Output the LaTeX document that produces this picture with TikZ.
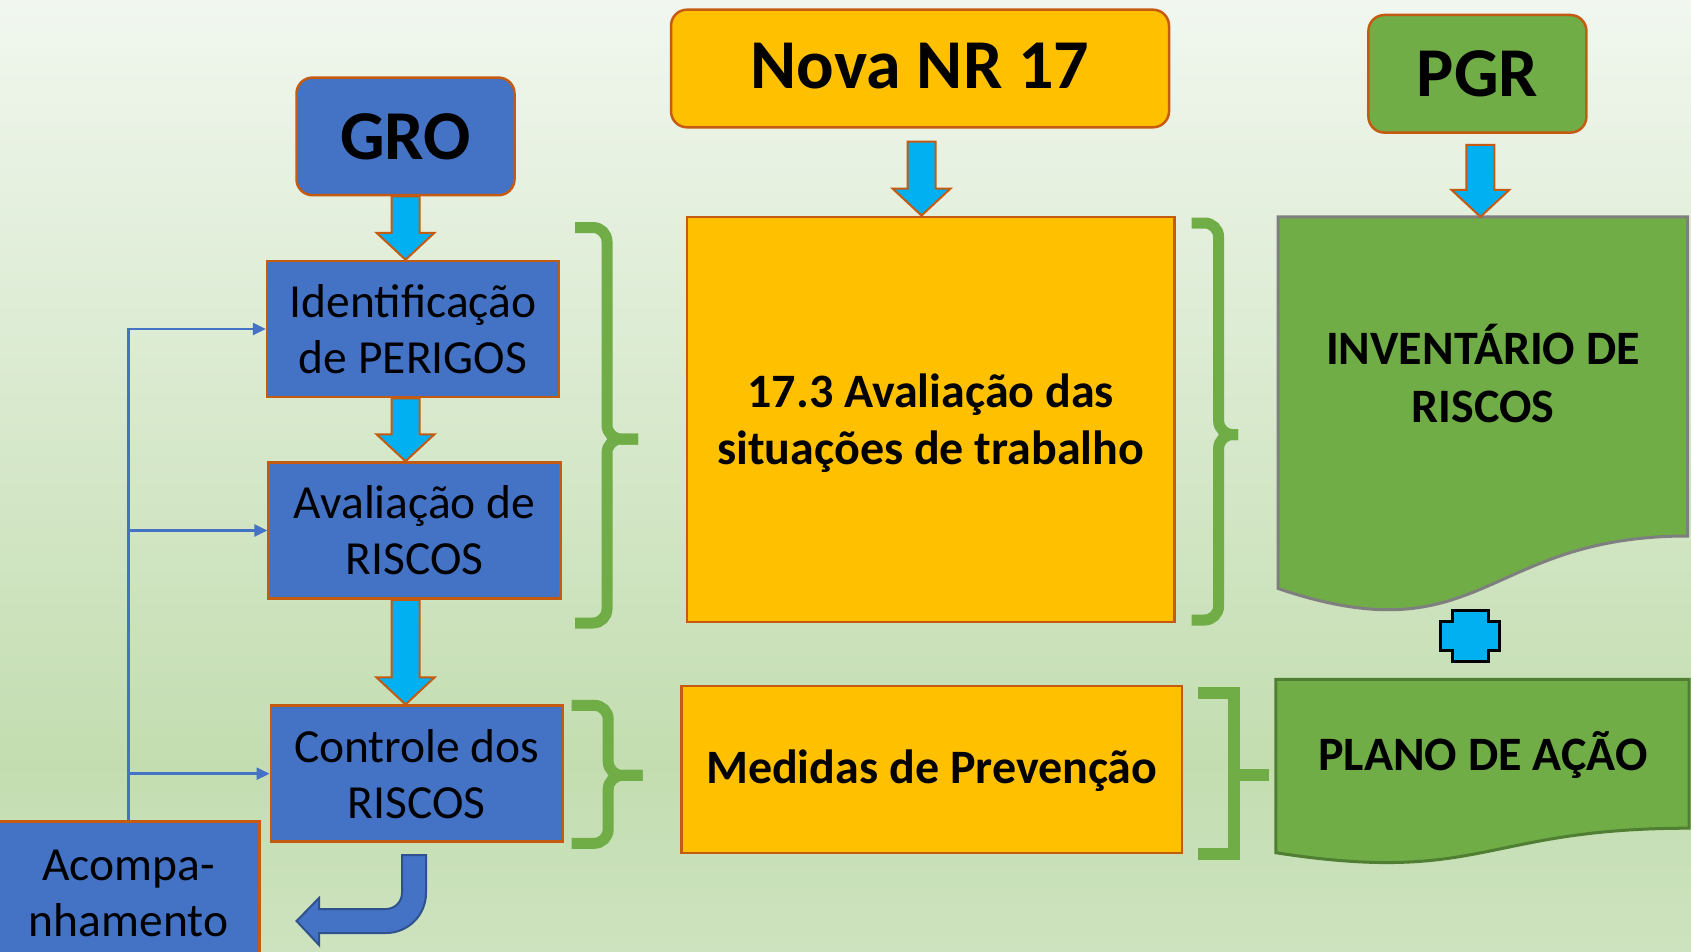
\documentclass[tikz,border=0pt]{standalone}
\usepackage{fontspec}
\setmainfont{Carlito}
\usetikzlibrary{positioning, calc, arrows.meta}

\definecolor{azul}{HTML}{4472C4}
\definecolor{azulesc}{HTML}{2F528F}
\definecolor{ciano}{HTML}{00B0F0}
\definecolor{laranja}{HTML}{C55A11}
\definecolor{ouro}{HTML}{FFC000}
\definecolor{verde}{HTML}{70AD47}
\definecolor{verdeesc}{HTML}{507E32}
\definecolor{cinza}{HTML}{7F7F7F}
\definecolor{fundotopo}{HTML}{F1F7EF}
\definecolor{fundomeio}{HTML}{C3DDB0}
\definecolor{fundobase}{HTML}{CDE3BF}

\pgfdeclareverticalshading{fundo}{100bp}{color(0bp)=(fundobase); color(25bp)=(fundobase); color(35bp)=(fundomeio); color(75bp)=(fundotopo); color(100bp)=(fundotopo)}

\tikzset{
    x=1pt, y=-1pt, % um ponto por pixel, y para baixo
    caixa/.style={draw=laranja, line width=2.5pt, fill=azul, minimum width=292pt, minimum height=136pt, inner sep=0pt, align=center, font=\fontsize{47.5}{56}\selectfont}, % caixas azuis do GRO
    titulo/.style={draw=laranja, line width=2.5pt, rounded corners=16pt, minimum width=218pt, minimum height=117.6pt, font=\bfseries\fontsize{70}{84}\selectfont}, % GRO, NR 17 e PGR
    amarela/.style={draw=laranja, line width=2.5pt, fill=ouro, inner sep=0pt, align=center, font=\bfseries\fontsize{48}{57}\selectfont}, % caixas da NR 17
    documento/.style={line width=3pt, fill=verde}, % formas de documento do PGR
    textodoc/.style={align=center, font=\bfseries\fontsize{48}{58}\selectfont},
    blocoseta/.style={draw=laranja, line width=2pt, fill=ciano, line join=miter}, % setas largas
    retorno/.style={draw=azul, line width=2.5pt, -{Triangle[length=13pt, width=12pt]}}, % linhas do acompanhamento
    chave/.style={draw=verde, line width=11pt, rounded corners=14pt},
    colchete/.style={draw=verde, line width=12pt},
    volta/.style={fill=azul, draw=azulesc, line width=2pt},
    mais/.style={fill=ciano, draw=black, line width=3pt}
}

% seta larga para baixo: #1 inicio, #2 ponta
\newcommand{\setabaixo}[2]{%
    \draw[blocoseta] let \p1=#1, \p2=#2 in
        (\x1-14pt,\y1) -- (\x1+14pt,\y1) -- (\x1+14pt,\y2+27pt) -- (\x1+29pt,\y2+27pt)
        -- (\x1,\y2) -- (\x1-29pt,\y2+27pt) -- (\x1-14pt,\y2+27pt) -- cycle;}
% texto baixado dentro da caixa
\newcommand{\desce}[2]{\raisebox{-#1}[\height][\depth]{\begin{tabular}{@{}c@{}}#2\end{tabular}}}

\begin{document}
\begin{tikzpicture}
    \useasboundingbox (0,0) rectangle (1691,952);
    \clip (0,0) rectangle (1691,952);
    \shade[shading=fundo] (0,0) rectangle (1691,952);

    % Chaves
    \draw[chave] (575,227.5) -- (607,227.5) -- (607,439) -- (638,439);
    \draw[chave] (638,439) -- (607,439) -- (607,623) -- (575,623);
    \draw[chave] (571.6,705.3) -- (608.2,705.3) -- (608.2,775.4) -- (642.7,775.4);
    \draw[chave] (642.7,775.4) -- (608.2,775.4) -- (608.2,843.3) -- (571.6,843.3);
    \draw[chave] (1191.6,223) -- (1218.6,223) -- (1218.6,434.6) -- (1238,434.6);
    \draw[chave] (1238,434.6) -- (1218.6,434.6) -- (1218.6,620) -- (1191.6,620);
    \draw[colchete] (1198,693) -- (1233.6,693) -- (1233.6,854) -- (1198,854);
    \draw[colchete] (1233.6,775) -- (1269,775);

    % Caixas
    \node[titulo, fill=azul] (GRO) at (405.5,136.4) {GRO};
    \node[caixa] (IP) at (413,329) {Identificação\\de PERIGOS};
    \node[caixa] (AR) at (414.6,530.5) {Avaliação de\\RISCOS};
    \node[caixa] (CR) at (416.8,773.7) {Controle dos\\RISCOS};
    \node[caixa, minimum width=262pt, minimum height=143pt] (AC) at (128.5,893) {Acompa-\\nhamento};

    \node[titulo, fill=ouro, minimum width=498pt] (NR) at (920,68.5) {\desce{3.5pt}{Nova NR 17}};
    \node[amarela, minimum width=487.4pt, minimum height=405.4pt] (AS) at (930.7,419.5) {\desce{5pt}{17.3 Avaliação das\\situações de trabalho}};
    \node[amarela, minimum width=500.4pt, minimum height=167pt] (MP) at (931.8,769.5) {\desce{3pt}{Medidas de Prevenção}};

    \node[titulo, fill=verde] (PGR) at (1477.4,73.8) {PGR};
    \draw[documento, draw=cinza] (1278,216.8) -- (1687.7,216.8) -- (1687.7,536)
        .. controls (1482.9,536) and (1482.9,657.6) .. (1278,588.5) -- cycle;
    \coordinate (IRtopo) at (1480.6,216.8);
    \node[textodoc] (IR) at (1483,374) {INVENTÁRIO DE\\RISCOS};
    \draw[documento, draw=verdeesc] (1275.8,679.4) -- (1689,679.4) -- (1689,828.2)
        .. controls (1482.4,828.2) and (1482.4,884.8) .. (1275.8,852.7) -- cycle;
    \node[textodoc] (PA) at (1483,755) {PLANO DE AÇÃO};

    % Sinal de mais
    \filldraw[mais] (1452,610.4) -- (1488,610.4) -- (1488,621) -- (1499,621) -- (1499,650)
        -- (1488,650) -- (1488,661) -- (1452,661) -- (1452,650) -- (1440.7,650)
        -- (1440.7,621) -- (1452,621) -- cycle;

    % Setas
    \setabaixo{(GRO.south)}{(IP.north)}
    \setabaixo{(IP.south -| GRO.south)}{(AR.north)}
    \setabaixo{(AR.south -| GRO.south)}{(CR.north)}
    \setabaixo{($(NR.south)+(1.5,13)$)}{(AS.north)}
    \setabaixo{($(PGR.south)+(3,11)$)}{(IRtopo)}

    \draw[retorno] (AC.north) |- (IP.west);
    \draw[retorno] (AC.north) |- (AR.west);
    \draw[retorno] (AC.north) |- (CR.west);

    \filldraw[volta] (402,855) -- (402,893) .. controls (402,901.8) and (394.8,909) .. (386,909)
        -- (319,909) -- (319,898) -- (296.6,921) -- (319,945) -- (319,933) -- (386,933)
        .. controls (408.1,933) and (426,915.1) .. (426,893) -- (426,855) -- cycle;
\end{tikzpicture}
\end{document}
